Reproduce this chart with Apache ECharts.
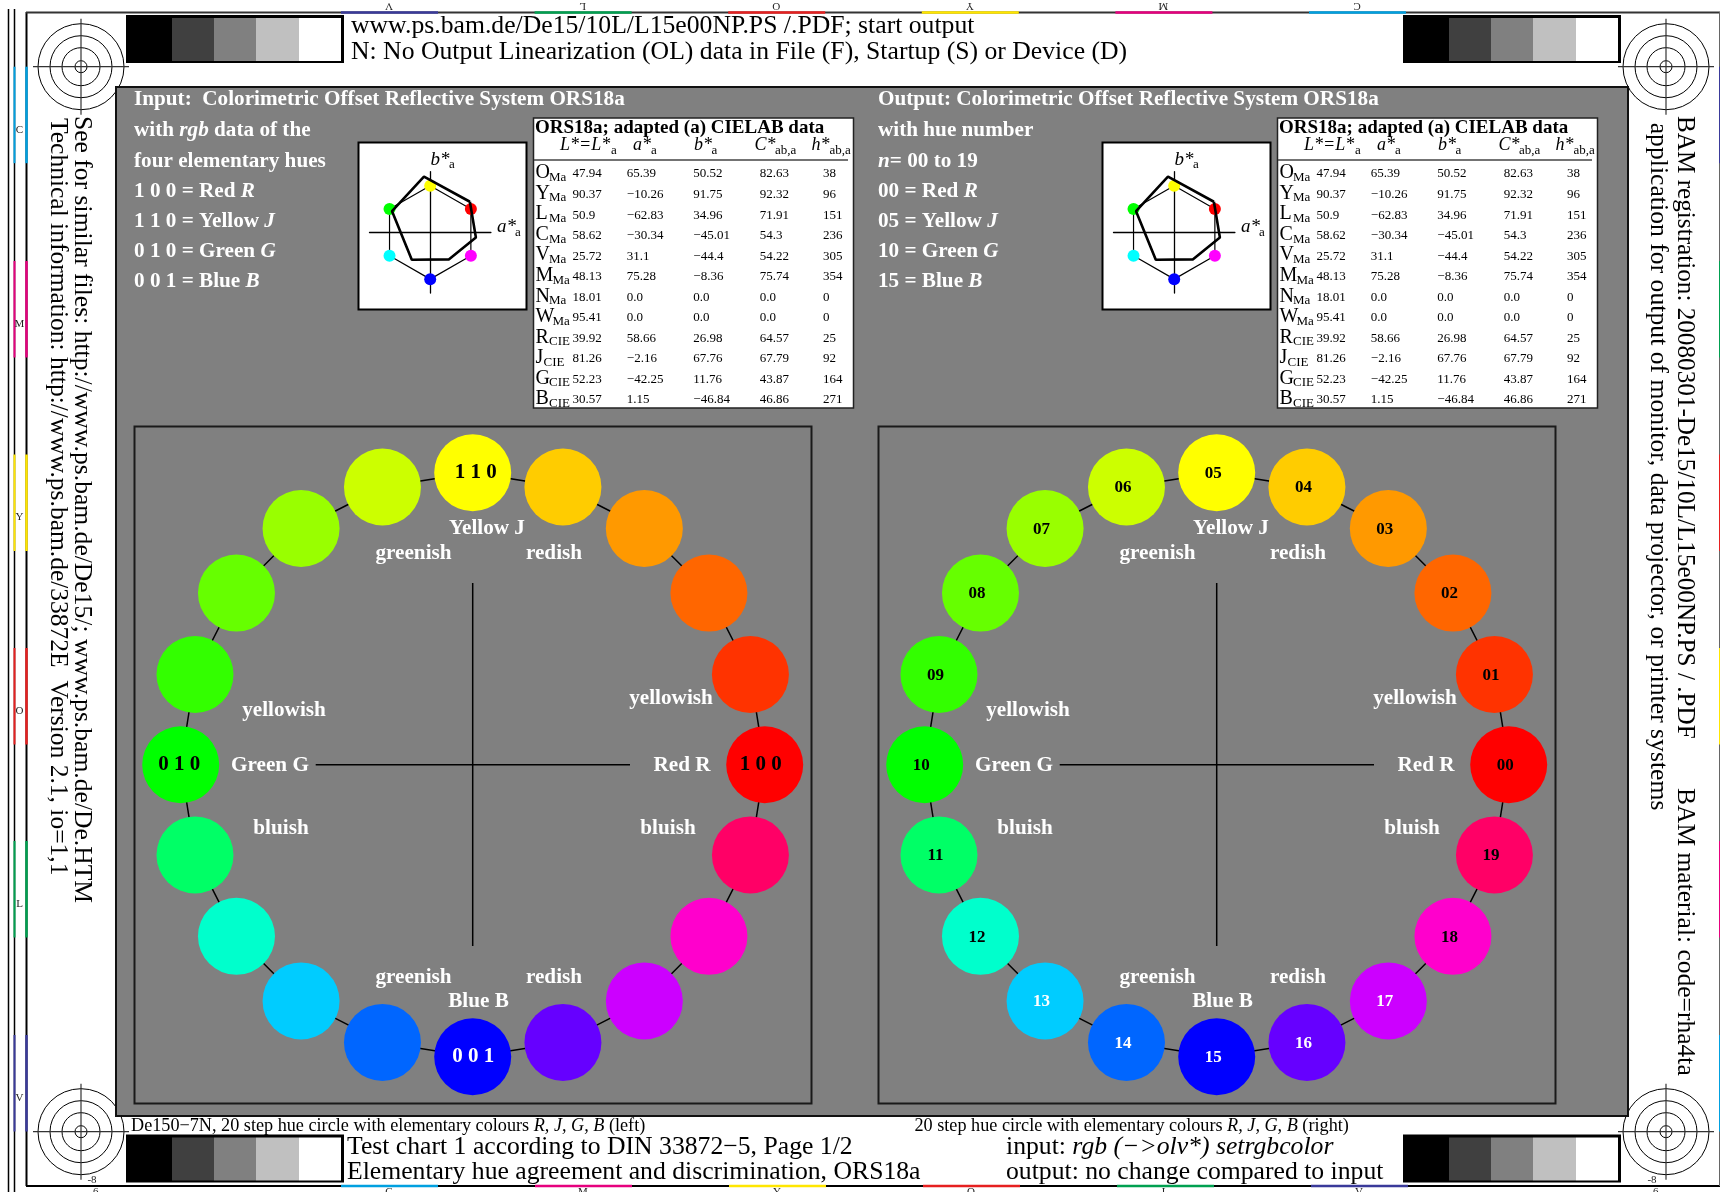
<!DOCTYPE html>
<html>
<head>
<meta charset="utf-8">
<title>De15 hue circle</title>
<style>
  html, body { margin: 0; padding: 0; background: #fff; overflow: hidden; }
  #chart { width: 1720px; height: 1192px; }
</style>
<script src="https://cdn.jsdelivr.net/npm/echarts@6/dist/echarts.min.js"></script>
</head>
<body>
<div id="chart"></div>
<script>
// 20 step hue circle
const hueAngles = [0, 18, 36, 54, 72, 90, 108, 126, 144, 162, 180, 198, 216, 234, 252, 270, 288, 306, 324, 342]
const hueColors = ['#ff0000', '#ff3300', '#ff6600', '#ff9900', '#ffcc00', '#ffff00', '#ccff00', '#99ff00', '#66ff00', '#33ff00',
  '#00ff00', '#00ff66', '#00ffcc', '#00ccff', '#0066ff', '#0000ff', '#6600ff', '#cc00ff', '#ff00cc', '#ff0066']
const hueRadius = [1, 1, 1, 1, 1, 1, 1, 1, 1, 1, 1, 1, 1, 1, 1, 1, 1, 1, 1, 1]
const inputLabels = ['1 0 0', '', '', '', '', '1 1 0', '', '', '', '', '0 1 0', '', '', '', '', '0 0 1', '', '', '', '']
const outputLabels = ['00', '01', '02', '03', '04', '05', '06', '07', '08', '09', '10', '11', '12', '13', '14', '15', '16', '17', '18', '19']
const outputLabelColors = ['#000', '#000', '#000', '#000', '#000', '#000', '#000', '#000', '#000', '#000', '#000', '#000', '#000',
  '#fff', '#fff', '#fff', '#fff', '#fff', '#000', '#000']
const inputLabelColors = ['#000', '', '', '', '', '#000', '', '', '', '', '#000', '', '', '', '', '#fff', '', '', '', '']

// CIELAB table
const rowNames = ['O', 'Y', 'L', 'C', 'V', 'M', 'N', 'W', 'R', 'J', 'G', 'B']
const rowSubs = ['Ma', 'Ma', 'Ma', 'Ma', 'Ma', 'Ma', 'Ma', 'Ma', 'CIE', 'CIE', 'CIE', 'CIE']
const colL = ['47.94', '90.37', '50.9', '58.62', '25.72', '48.13', '18.01', '95.41', '39.92', '81.26', '52.23', '30.57']
const colA = ['65.39', '−10.26', '−62.83', '−30.34', '31.1', '75.28', '0.0', '0.0', '58.66', '−2.16', '−42.25', '1.15']
const colB = ['50.52', '91.75', '34.96', '−45.01', '−44.4', '−8.36', '0.0', '0.0', '26.98', '67.76', '11.76', '−46.84']
const colC = ['82.63', '92.32', '71.91', '54.3', '54.22', '75.74', '0.0', '0.0', '64.57', '67.79', '43.87', '46.86']
const colH = ['38', '96', '151', '236', '305', '354', '0', '0', '25', '92', '164', '271']

// small a*b* diagram
const polyA = [65.39, -10.26, -62.83, -30.34, 31.1, 75.28, 65.39]
const polyB = [50.52, 91.75, 34.96, -45.01, -44.4, -8.36, 50.52]
const hexA = [67, 0, -67, -67, 0, 67, 67]
const hexB = [38.5, 77, 38.5, -38.5, -77, -38.5, 38.5]
const hexColors = ['#ff0000', '#ffff00', '#00ff00', '#00ffff', '#0000ff', '#ff00ff']

const greyRamp = ['#000000', '#404040', '#808080', '#c0c0c0', '#ffffff']
const inputSide = ['with |rgb| data of the', 'four elementary hues', '1 0 0 = Red |R', '1 1 0 = Yellow |J', '0 1 0 = Green |G', '0 0 1 = Blue |B']
const outputSide = ['with hue number', '|n|= 00 to 19', '00 = Red |R', '05 = Yellow |J', '10 = Green |G', '15 = Blue |B']

const SERIF = '"Liberation Serif", "Times New Roman", serif'
const DX = 744
const BIG = 25.7
const WORD = 21.2
const els = []

function txt(x, y, text, size, opt) {
  const o = opt || {}
  els.push({
    type: 'text', x: x, y: y, rotation: o.rot || 0, silent: true,
    style: {
      text: text,
      font: (o.italic ? 'italic ' : '') + (o.bold ? 'bold ' : '') + size + 'px ' + SERIF,
      fill: o.color || '#000',
      align: o.align || 'left',
      verticalAlign: 'middle',
      rich: o.rich
    }
  })
}
function line(x1, y1, x2, y2, color, w) {
  els.push({ type: 'line', silent: true, shape: { x1: x1, y1: y1, x2: x2, y2: y2 }, style: { stroke: color || '#000', lineWidth: w || 1 } })
}
function box(x, y, w, h, fill, stroke, lw) {
  els.push({ type: 'rect', silent: true, shape: { x: x, y: y, width: w, height: h }, style: { fill: fill, stroke: stroke || null, lineWidth: lw || 0 } })
}

function regMark(cx, cy) {
  ;[43, 31, 19, 6].forEach(r => {
    els.push({ type: 'circle', silent: true, shape: { cx: cx, cy: cy, r: r }, style: { fill: 'none', stroke: '#000', lineWidth: 1 } })
  })
  line(cx - 48, cy, cx + 48, cy, '#333', 1.2)
  line(cx, cy - 48, cx, cy + 48, '#333', 1.2)
}

function ramp(x, y) {
  box(x, y, 218, 48, '#000')
  const stops = [0, 46, 88, 130, 173, 215]
  greyRamp.forEach((c, i) => {
    box(x + stops[i], y + 3, stops[i + 1] - stops[i], 43, c)
  })
}

function sideRich(str) {
  // | toggles italic
  const parts = str.split('|')
  return parts.map((p, i) => p === '' ? '' : '{' + (i % 2 ? 'i' : 'b') + '|' + p + '}').join('')
}

function panelText(dx, title, side) {
  const rich = {
    b: { font: 'bold ' + WORD + 'px ' + SERIF, fill: '#fff' },
    i: { font: 'italic bold ' + WORD + 'px ' + SERIF, fill: '#fff' }
  }
  txt(134 + dx, 99.5, title, WORD, { bold: true, color: '#fff' })
  side.forEach((s, i) => {
    txt(134 + dx, 131 + i * 30.2, sideRich(s), WORD, { rich: rich })
  })

  // diagram box and its axis names
  box(358.5 + dx, 142.5, 168, 167, '#fff', '#000', 2)
  txt(430.5 + dx, 160, 'b*', 19, { italic: true })
  txt(449 + dx, 165, 'a', 13)
  txt(497 + dx, 226.5, 'a*', 19, { italic: true })
  txt(515 + dx, 232.5, 'a', 13)

  // table
  box(533.5 + dx, 118, 320, 290, '#fff', '#222', 1.5)
  txt(535 + dx, 128, 'ORS18a; adapted (a) CIELAB data', 19, { bold: true })
  const heads = [['L*=L*', 'a', 560, 611], ['a*', 'a', 633, 651], ['b*', 'a', 694, 711.5], ['C*', 'ab,a', 754.6, 775], ['h*', 'ab,a', 811.4, 829.6]]
  heads.forEach(h => {
    txt(h[2] + dx, 145, h[0], 18, { italic: true })
    txt(h[3] + dx, 151, h[1], 13)
  })
  line(534 + dx, 160, 848 + dx, 160, '#444', 1.5)
  rowNames.forEach((n, i) => {
    const y = 174 + i * 20.55
    txt(535.5 + dx, y - 1, n, 20)
    txt(535.5 + dx + (n === 'M' || n === 'W' ? 17 : n === 'J' ? 8 : 13.5), y + 3.5, rowSubs[i], 13)
    txt(572.5 + dx, y, colL[i], 13)
    txt(626.8 + dx, y, colA[i], 13)
    txt(693.3 + dx, y, colB[i], 13)
    txt(759.7 + dx, y, colC[i], 13)
    txt(823 + dx, y, colH[i], 13)
  })

  // hue circle frame, cross and words
  box(134.5 + dx, 426.5, 677, 677, 'none', '#1a1a1a', 2)
  line(315.7 + dx, 764.7, 630 + dx, 764.7, '#000', 1.5)
  line(472.7 + dx, 583, 472.7 + dx, 946, '#000', 1.5)
  const w = { bold: true, color: '#fff', align: 'center' }
  txt(487 + dx, 529, 'Yellow J', WORD, w)
  txt(413.5 + dx, 554, 'greenish', WORD, w)
  txt(554 + dx, 554, 'redish', WORD, w)
  txt(284 + dx, 711, 'yellowish', WORD, w)
  txt(671 + dx, 698.5, 'yellowish', WORD, w)
  txt(270 + dx, 766, 'Green G', WORD, w)
  txt(682 + dx, 766, 'Red R', WORD, w)
  txt(281 + dx, 829, 'bluish', WORD, w)
  txt(668 + dx, 829, 'bluish', WORD, w)
  txt(413.5 + dx, 978, 'greenish', WORD, w)
  txt(554 + dx, 978, 'redish', WORD, w)
  txt(478.5 + dx, 1002, 'Blue B', WORD, w)
}

// page frame
line(8.5, 9, 8.5, 1192, '#000', 1.5)
line(14.5, 9, 14.5, 1192, '#000', 1.5)
line(26.5, 12, 26.5, 1186, '#000', 2)
line(26, 12.5, 1720, 12.5, '#333', 2)
line(26, 1186, 1720, 1186, '#000', 2)
line(1719.5, 12, 1719.5, 1186, '#666', 1)
const sideColors = ['#00a0e0', '#e6007e', '#ffe600', '#e62020', '#00a050', '#3a3a9a']
const sideTops = [66.7, 261, 454.5, 648, 841, 1035]
sideTops.forEach((t, i) => {
  line(14.5, t, 14.5, t + 96.5, sideColors[i], 2)
  line(26.5, t, 26.5, t + 96.5, sideColors[i], 2.5)
  line(1719.5, t, 1719.5, t + 96.5, sideColors[5 - i], 1)
})
const sideNames = ['C', 'M', 'Y', 'O', 'L', 'V']
sideNames.forEach((n, i) => {
  txt(19.5, sideTops[i] + 63, n, 11, { align: 'center', color: '#222' })
  const x = 341 + i * 194
  line(x, 1186, x + 97, 1186, sideColors[i], 2.5)
  txt(x + 48, 1192, n, 11, { align: 'center', color: '#222' })
  const tx = 1309 - i * 193.6
  line(tx, 12.5, tx + 97, 12.5, sideColors[i], 2.5)
  txt(tx + 48, 6, n, 11, { align: 'center', color: '#222', rot: Math.PI })
})
txt(92, 1180, '-8', 11, { align: 'center', color: '#222' })
txt(1652, 1180, '-8', 11, { align: 'center', color: '#222' })
txt(94, 1192, '-6', 11, { align: 'center', color: '#222' })
txt(1654, 1192, '-6', 11, { align: 'center', color: '#222' })

regMark(81, 66.7)
regMark(1666, 66.7)
regMark(81, 1131.7)
regMark(1666, 1131.7)
ramp(126, 15)
ramp(1403, 15)
ramp(126, 1134.5)
ramp(1403, 1134.5)

// grey panel
box(116, 87, 1512, 1029, '#808080', '#111', 2)
panelText(0, 'Input:  Colorimetric Offset Reflective System ORS18a', inputSide)
panelText(DX, 'Output: Colorimetric Offset Reflective System ORS18a', outputSide)

// header and footer lines
const cap = { rich: { i: { font: 'italic 18.2px ' + SERIF, fill: '#000' } } }
const bigRich = { rich: { i: { font: 'italic ' + BIG + 'px ' + SERIF, fill: '#000' } } }
txt(351, 26.5, 'www.ps.bam.de/De15/10L/L15e00NP.PS /.PDF; start output', BIG)
txt(351, 52.5, 'N: No Output Linearization (OL) data in File (F), Startup (S) or Device (D)', BIG)
txt(131, 1126, 'De150−7N, 20 step hue circle with elementary colours {i|R, J, G, B} (left)', 18.2, cap)
txt(914.5, 1126, '20 step hue circle with elementary colours {i|R, J, G, B} (right)', 18.2, cap)
txt(347, 1147, 'Test chart 1 according to DIN 33872−5, Page 1/2', BIG)
txt(347, 1172, 'Elementary hue agreement and discrimination, ORS18a', BIG)
txt(1006, 1147, 'input: {i|rgb (−>olv*) setrgbcolor}', BIG, bigRich)
txt(1006, 1172, 'output: no change compared to input', BIG)

// rotated margin text
const down = -Math.PI / 2
txt(82, 116, 'See for similar files: http://www.ps.bam.de/De15/; www.ps.bam.de/De.HTM', 25.6, { rot: down })
txt(58, 118, 'Technical information: http://www.ps.bam.de/33872E  Version 2.1, io=1,1', 25.5, { rot: down })
txt(1685, 116, 'BAM registration: 20080301-De15/10L/L15e00NP.PS / .PDF', 25.2, { rot: down })
txt(1685, 788, 'BAM material: code=rha4ta', 25.5, { rot: down })
txt(1658, 122.7, 'application for output of monitor, data projector, or printer systems', 25.7, { rot: down })

// tweak for the left hand labels, they are not centred in the reference
const inputOffsets = { '1 0 0': [-4, 0], '1 1 0': [3, 0], '0 1 0': [-1.5, 0], '0 0 1': [0.5, 0] }

function ringSeries(polarIndex, labels, labelColors, labelSize, offsets) {
  const closed = hueAngles.concat(hueAngles[0]).map((a, i) => [hueRadius[i % 20], a])
  return [{
    type: 'line', coordinateSystem: 'polar', polarIndex: polarIndex, data: closed,
    symbol: 'none', smooth: false, silent: true, z: 2,
    lineStyle: { color: '#000', width: 1.5 }
  }, {
    type: 'scatter', coordinateSystem: 'polar', polarIndex: polarIndex, z: 3, silent: true,
    symbol: 'circle', symbolSize: 77,
    data: hueAngles.map((a, i) => ({
      value: [hueRadius[i], a],
      itemStyle: { color: hueColors[i], opacity: 1 },
      label: {
        show: labels[i] !== '', formatter: labels[i], position: 'inside', offset: offsets ? offsets[labels[i]] : [-3.5, 1],
        color: labelColors[i] || '#000', fontFamily: SERIF, fontWeight: 'bold', fontSize: labelSize
      }
    }))
  }]
}

function miniSeries(idx) {
  const hex = hexA.map((a, i) => [a, hexB[i]])
  return [{
    type: 'line', xAxisIndex: idx, yAxisIndex: idx, data: hex, symbol: 'none', silent: true, z: 2,
    lineStyle: { color: '#000', width: 1.2 }
  }, {
    type: 'scatter', xAxisIndex: idx, yAxisIndex: idx, symbolSize: 12, silent: true, z: 3,
    data: hexColors.map((c, i) => ({ value: [hexA[i], hexB[i]], itemStyle: { color: c, opacity: 1 } }))
  }, {
    type: 'line', xAxisIndex: idx, yAxisIndex: idx, data: polyA.map((a, i) => [a, polyB[i]]), symbol: 'none', silent: true, z: 4,
    lineStyle: { color: '#000', width: 2.6 }
  }]
}

function miniAxis(idx) {
  return {
    gridIndex: idx, type: 'value', min: -100, max: 100, interval: 100,
    axisLine: { show: true, onZero: true, lineStyle: { color: '#000', width: 1.3 } },
    axisTick: { show: false }, axisLabel: { show: false }, splitLine: { show: false }
  }
}

const chart = echarts.init(document.getElementById('chart'), null, { renderer: 'canvas' })
chart.setOption({
  animation: false,
  backgroundColor: '#fff',
  tooltip: { show: false },
  graphic: { elements: els },
  grid: [
    { left: 369.5, top: 171.7, width: 121.4, height: 121.4 },
    { left: 369.5 + DX, top: 171.7, width: 121.4, height: 121.4 }
  ],
  xAxis: [miniAxis(0), miniAxis(1)],
  yAxis: [miniAxis(0), miniAxis(1)],
  polar: [
    { center: [472.7, 764.7], radius: [0, 292] },
    { center: [472.7 + DX, 764.7], radius: [0, 292] }
  ],
  angleAxis: [0, 1].map(i => ({
    polarIndex: i, type: 'value', min: 0, max: 360, startAngle: 0, clockwise: false,
    axisLine: { show: false }, axisTick: { show: false }, axisLabel: { show: false }, splitLine: { show: false }
  })),
  radiusAxis: [0, 1].map(i => ({
    polarIndex: i, type: 'value', min: 0, max: 1,
    axisLine: { show: false }, axisTick: { show: false }, axisLabel: { show: false }, splitLine: { show: false }
  })),
  series: [].concat(
    ringSeries(0, inputLabels, inputLabelColors, 21, inputOffsets),
    ringSeries(1, outputLabels, outputLabelColors, 17),
    miniSeries(0),
    miniSeries(1)
  )
})
</script>
</body>
</html>
